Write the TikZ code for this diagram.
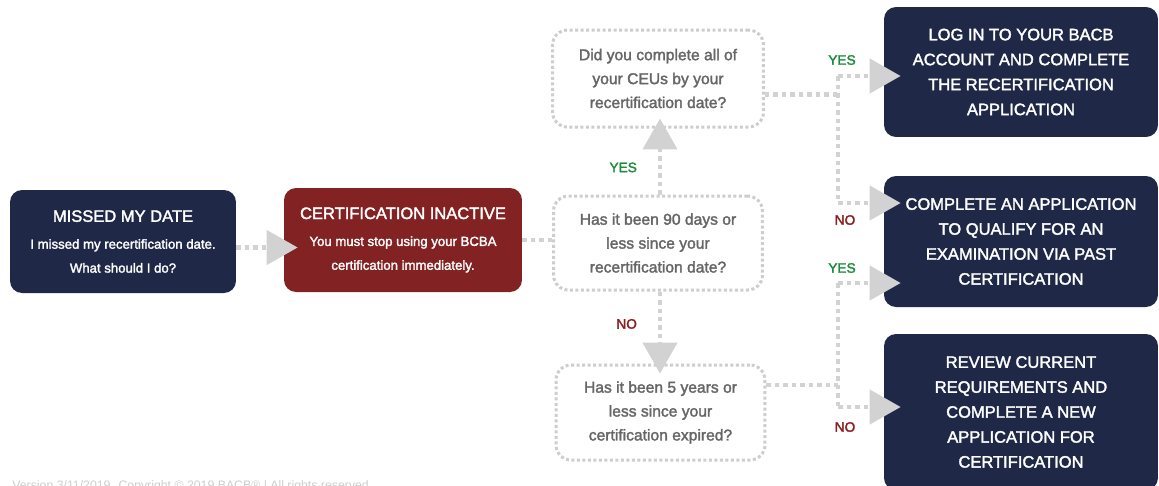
\documentclass[tikz,border=0pt]{standalone}
\usepackage{fontspec}
\setmainfont{Liberation Sans}
\newfontfamily\medfont[FakeBold=2]{Liberation Sans}
\usetikzlibrary{arrows.meta,positioning}
\definecolor{navy}{HTML}{1F2846}
\definecolor{darkred}{HTML}{822222}
\definecolor{linegray}{HTML}{D2D2D2}
\definecolor{boxgray}{HTML}{CDCDCD}
\definecolor{textgray}{HTML}{666666}
\definecolor{yesgreen}{HTML}{1F8A3B}
\definecolor{nored}{HTML}{8A1F1F}
\newcommand{\titlefont}{\medfont\fontsize{9.4}{14.2}\selectfont}
\newcommand{\subfont}{\medfont\fontsize{7.5}{13.6}\selectfont}
\tikzset{
  darkbox/.style = {rounded corners = 0.24cm, fill = navy, text = white, align = center, inner sep = 0pt},
  redbox/.style = {darkbox, fill = darkred},
  askbox/.style = {rounded corners = 0.3cm, draw = boxgray, line width = 0.06cm, dash pattern = on 0.06cm off 0.05cm, text = textgray, align = center, inner sep = 0pt, font = \medfont\fontsize{8.9}{13.6}\selectfont},
  flow/.style = {draw = linegray, line width = 0.09cm, dash pattern = on 0.09cm off 0.08cm},
  tip/.style = {-{Triangle[length = 0.62cm, width = 0.68cm, fill = linegray]}},
  yes/.style = {text = yesgreen, font = \medfont\fontsize{7.8}{8}\selectfont},
  no/.style = {text = nored, font = \medfont\fontsize{7.8}{8}\selectfont}
}
\begin{document}
\begin{tikzpicture}[x = 0.02cm, y = -0.02cm]
\useasboundingbox (0,0) rectangle (1159,485);
\clip (0,0) rectangle (1159,485);
\node[darkbox, minimum width = 4.52cm, minimum height = 2.06cm, font = \subfont] (missed) at (123,241.5) {{\titlefont MISSED MY DATE}\\[1.7pt] I missed my recertification date.\\ What should I do?};
\node[redbox, minimum width = 4.76cm, minimum height = 2.08cm, font = \subfont] (inactive) at (403,240) {{\titlefont CERTIFICATION INACTIVE}\\[1.7pt] You must stop using your BCBA\\ certification immediately.};
\node[askbox, minimum width = 4.22cm, minimum height = 1.94cm] (ceus) at (658,78.5) {Did you complete all of\\ your CEUs by your\\ recertification date?};
\node[askbox, minimum width = 4.18cm, minimum height = 1.88cm] (ninety) at (658,243) {Has it been 90 days or\\ less since your\\ recertification date?};
\node[askbox, minimum width = 4.18cm, minimum height = 1.9cm] (five) at (660.5,412.5) {Has it been 5 years or\\ less since your\\ certification expired?};
\node[darkbox, minimum width = 5.48cm, minimum height = 2.6cm, font = \titlefont] (login) at (1021,72) {LOG IN TO YOUR BACB\\ ACCOUNT AND COMPLETE\\ THE RECERTIFICATION\\ APPLICATION};
\node[darkbox, minimum width = 5.48cm, minimum height = 2.62cm, font = \titlefont] (past) at (1021,241.5) {COMPLETE AN APPLICATION\\ TO QUALIFY FOR AN\\ EXAMINATION VIA PAST\\ CERTIFICATION};
\node[darkbox, minimum width = 5.48cm, minimum height = 3.12cm, font = \titlefont] (review) at (1021,412) {REVIEW CURRENT\\ REQUIREMENTS AND\\ COMPLETE A NEW\\ APPLICATION FOR\\ CERTIFICATION};
\coordinate (upa) at (838,76);
\coordinate (upb) at (838,203);
\coordinate (lowa) at (838,283);
\coordinate (lowb) at (838,407);
\draw[flow, tip, shorten >= -0.28cm] ([yshift = -0.12cm]missed.east) -- ([yshift = -0.12cm]missed.east -| inactive.west);
\draw[flow] (inactive.east) -- (inactive.east -| ninety.west);
\draw[flow, tip, shorten >= -0.2cm] (ninety.north -| 660,0) -- (ceus.south -| 660,0) node[pos = 0.41, left = 0.3cm, yes] (yesup) {YES};
\draw[flow, tip, shorten >= -0.2cm] (ninety.south -| 660,0) -- (five.north -| 660,0) node[pos = 0.45, left = 0.3cm, no] (nodown) {NO};
\draw[flow] ([yshift = -0.32cm]ceus.east) -- ([yshift = -0.32cm]ceus.east -| upa);
\draw[flow] (upa) -- (upb);
\draw[flow, tip, shorten >= -0.34cm] (upa) -- (upa -| login.west);
\draw[flow, tip, shorten >= -0.34cm] (upb) -- (upb -| past.west);
\node[yes] (yesa) at ([shift = {(4,-16)}]upa) {YES};
\node[no] (noa) at ([shift = {(7,17)}]upb) {NO};
\draw[flow] ([yshift = 0.55cm]five.east) -- ([yshift = 0.55cm]five.east -| lowa);
\draw[flow] (lowa) -- (lowb);
\draw[flow, tip, shorten >= -0.34cm] (lowa) -- (lowa -| past.west);
\draw[flow, tip, shorten >= -0.34cm] (lowb) -- (lowb -| review.west);
\node[yes] (yesb) at ([shift = {(4,-15)}]lowa) {YES};
\node[no] (nob) at ([shift = {(7,20)}]lowb) {NO};
\node[anchor = north west, text = boxgray, font = \fontsize{7}{8}\selectfont, inner sep = 0pt] (footer) at (12,480) {Version 3/11/2019. Copyright \textcopyright{} 2019 BACB\textregistered{} | All rights reserved.};
\end{tikzpicture}
\end{document}
